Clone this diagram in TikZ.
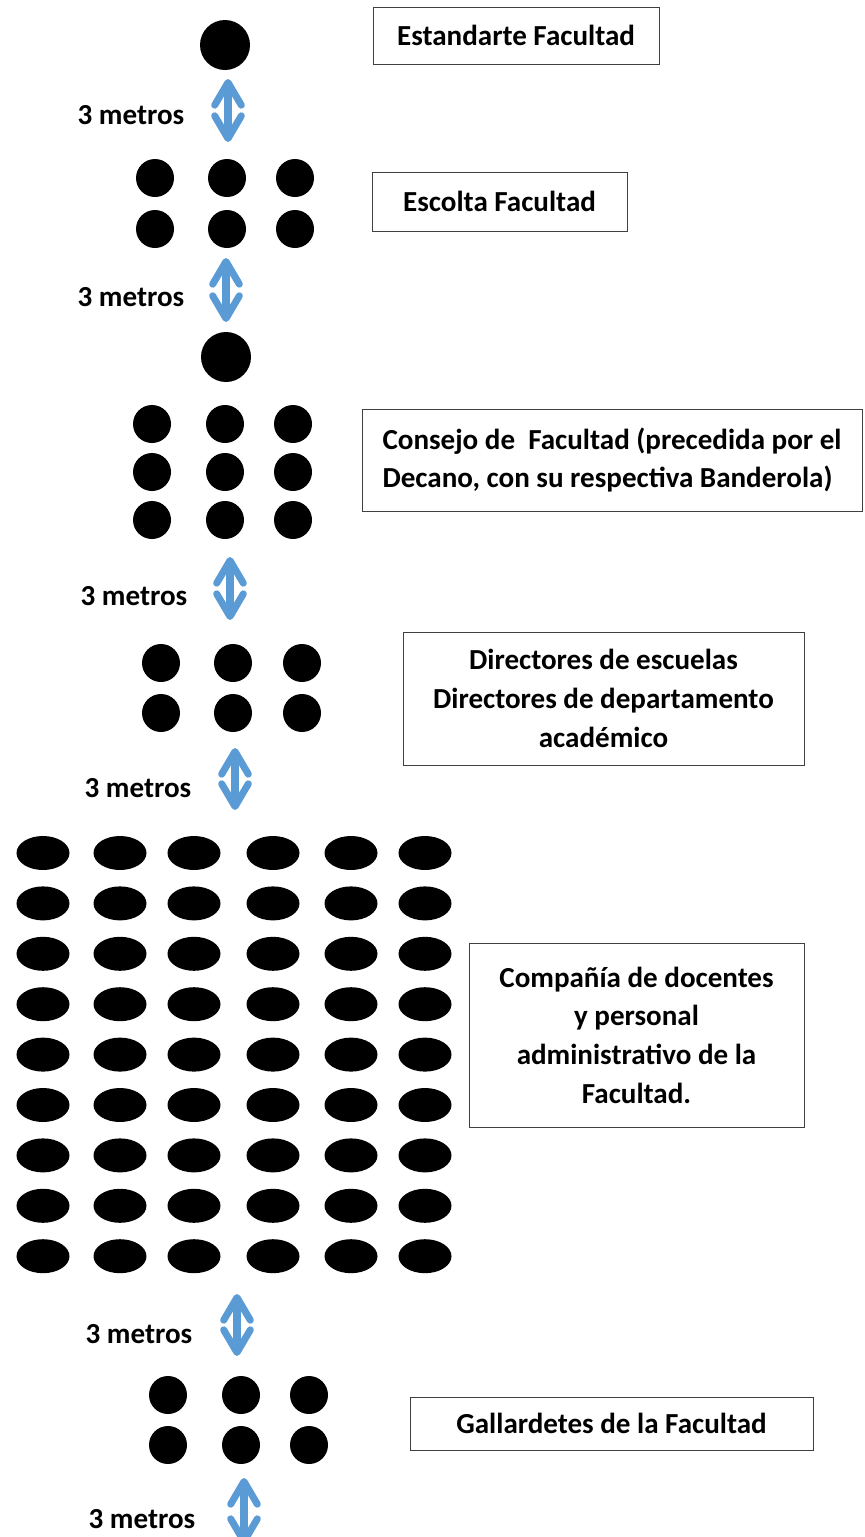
\documentclass[tikz,border=0pt]{standalone}
\usepackage{fontspec}
\setmainfont{Carlito}
\usetikzlibrary{arrows.meta,positioning,shapes.geometric}
\definecolor{gapblue}{RGB}{91,155,213}

\begin{document}
\begin{tikzpicture}[x=0.03cm, y=-0.03cm,
  every node/.style={font=\fontsize{24.8}{33}\selectfont\bfseries},
  infobox/.style={draw=black!75, line width=0.8pt, align=center, inner sep=0pt},
  leader/.style={circle, fill=black, inner sep=0pt, minimum size=1.5cm},
  person/.style={circle, fill=black, inner sep=0pt, minimum size=1.14cm},
  member/.style={ellipse, fill=black, inner sep=0pt, minimum width=1.59cm, minimum height=1.02cm},
  gap/.style={gapblue, line width=6pt,
    {Straight Barb[round,length=0.68cm,width=0.8cm]}-{Straight Barb[round,length=0.68cm,width=0.8cm]}}
]
\clip (0,0) rectangle (864,1537);

% Estandarte
\node[leader] (std) at (225,45) {};
\node[infobox, minimum width=8.58cm, minimum height=1.71cm] (estandarte) at (516,35.5) {Estandarte Facultad};

% Escolta
\foreach \y [count=\r] in {178,229}
  \foreach \x [count=\c] in {155,227,295}
    \node[person] (esc-\r-\c) at (\x,\y) {};
\node[infobox, minimum width=7.65cm, minimum height=1.77cm] (escolta) at (499.5,201.5) {Escolta Facultad};

% Consejo de Facultad
\node[leader] (decano) at (226,357) {};
\foreach \y [count=\r] in {424,472,520}
  \foreach \x [count=\c] in {152,225,293}
    \node[person] (cons-\r-\c) at (\x,\y) {};
\node[infobox, align=left, minimum width=15.0cm, minimum height=3.06cm] (consejo) at (612,460)
  {Consejo de~ Facultad (precedida por el\\Decano, con su respectiva Banderola)};

% Directores
\foreach \y [count=\r] in {663,713}
  \foreach \x [count=\c] in {161,233,302}
    \node[person] (dir-\r-\c) at (\x,\y) {};
\node[infobox, minimum width=12.03cm, minimum height=3.99cm] (directores) at (603.5,698.5)
  {Directores de escuelas\\Directores de departamento\\acad\'emico};

% Docentes y personal
\foreach \r in {1,...,9}
  \foreach \x [count=\c] in {43,120,194,273,351,425}
    \node[member] (doc-\r-\c) at (\x,{853+50.4*(\r-1)}) {};
\node[infobox, minimum width=10.05cm, minimum height=5.52cm] (compania) at (636.5,1035)
  {Compa\~n\'ia de docentes\\y personal\\administrativo de la\\Facultad.};

% Gallardetes
\foreach \y [count=\r] in {1395,1445}
  \foreach \x [count=\c] in {168,241,309}
    \node[person] (gal-\r-\c) at (\x,\y) {};
\node[infobox, minimum width=12.09cm, minimum height=1.59cm] (gallardetes) at (611.5,1423.5) {Gallardetes de la Facultad};

% Distances
\coordinate (g1a) at (228,79);   \coordinate (g1b) at (228,142);
\coordinate (g2a) at (226,258);  \coordinate (g2b) at (226,322);
\coordinate (g3a) at (230,557);  \coordinate (g3b) at (230,620);
\coordinate (g4a) at (235,748);  \coordinate (g4b) at (235,810);
\coordinate (g5a) at (237,1294); \coordinate (g5b) at (237,1356);
\coordinate (g6a) at (244,1478); \coordinate (g6b) at (244,1545);
\foreach \i in {1,...,6}
  \draw[gap] (g\i a) -- (g\i b);

\node (m1) at (131,115) {3 metros};
\node (m2) at (131,297) {3 metros};
\node (m3) at (134,596) {3 metros};
\node (m4) at (138,788) {3 metros};
\node (m5) at (139,1334) {3 metros};
\node (m6) at (142,1519) {3 metros};

\end{tikzpicture}
\end{document}
